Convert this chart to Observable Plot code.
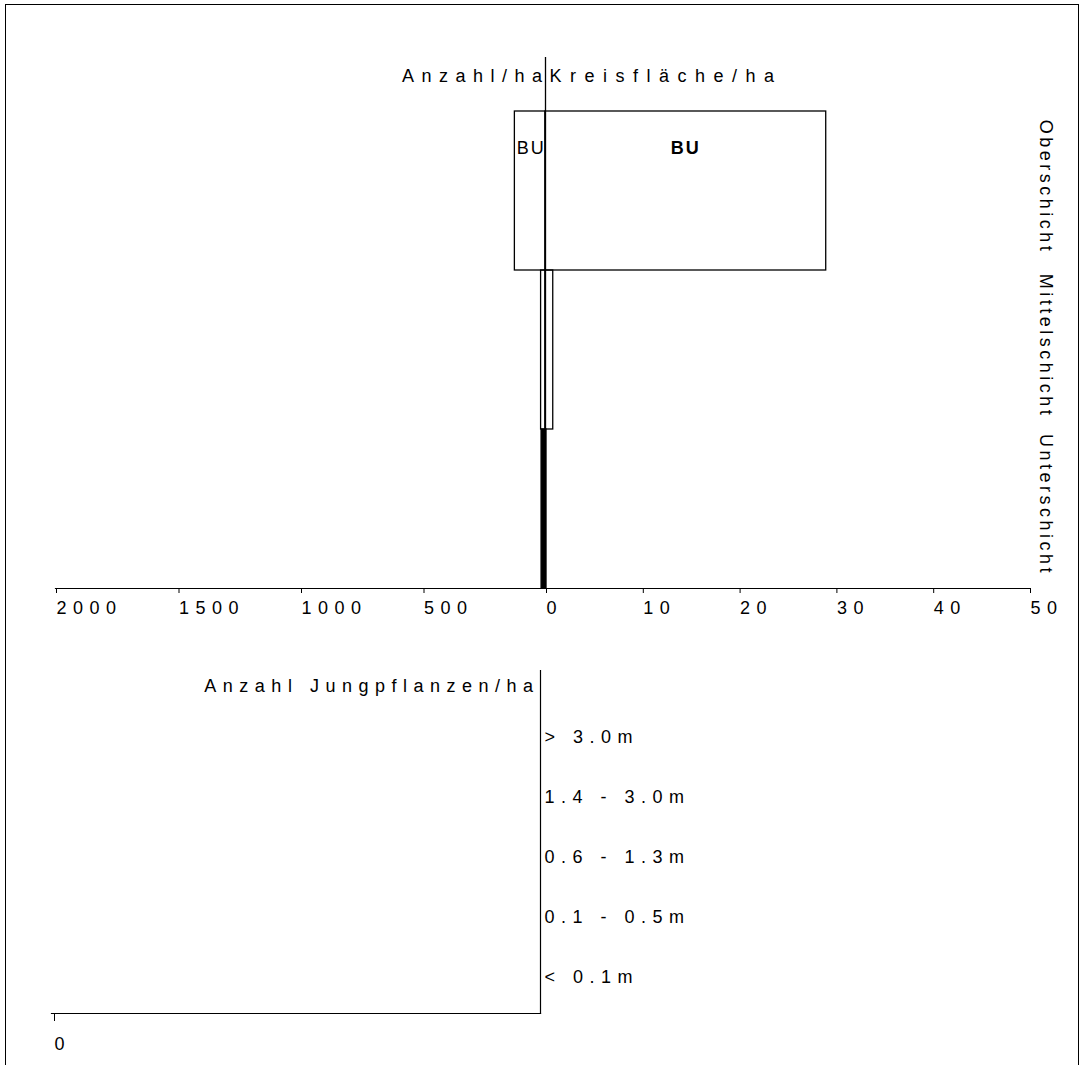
<!DOCTYPE html>
<html><head><meta charset="utf-8">
<script src="https://cdn.jsdelivr.net/npm/d3@7"></script>
<script src="https://cdn.jsdelivr.net/npm/@observablehq/plot@0.6"></script>
<style>
html,body{margin:0;padding:0;background:#fff;}
#chart{position:relative;width:1084px;height:1065px;overflow:hidden;background:#fff;}
#chart svg{position:absolute;left:0;top:0;}
#border{position:absolute;left:5px;top:4px;width:1074px;height:1100px;border:1px solid #000;box-sizing:border-box;}
</style></head><body>
<div id="chart"><div id="border"></div></div>
<script>
// ---- data ----
const layers = ["Oberschicht", "Mittelschicht", "Unterschicht"];
const species = ["BU", "BU", "BU"];
const anzahl = [125, 18, 16];            // Anzahl/ha
const kreisflaeche = [29, 0.8, 0.1];     // Kreisfläche/ha (m²)
const labelled = [true, false, false];
const anzahlTicks = [0, 500, 1000, 1500, 2000];
const kfTicks = [0, 10, 20, 30, 40, 50];
const heightClasses = ["> 3.0m", "1.4 - 3.0m", "0.6 - 1.3m", "0.1 - 0.5m", "< 0.1m"];
const jungpflanzen = [0, 0, 0, 0, 0];
const jungTicks = [0];

const stand = layers.map((l, i) => ({layer: l, species: species[i], anzahl: anzahl[i], kf: kreisflaeche[i], labelled: labelled[i]}));
const young = heightClasses.map((c, i) => ({cls: c, count: jungpflanzen[i]}));

const W = 1084, H = 1065;
const FONT = "'Liberation Sans', Arial, Helvetica, sans-serif";
const baseStyle = {background: "transparent", fontFamily: FONT, fontSize: "18px", letterSpacing: "6.5px", color: "#000", overflow: "visible"};
const layerFill = d => d.layer === "Unterschicht" ? "black" : "none";

const yTop = {type: "band", domain: layers, range: [110, 588], padding: 0, axis: null};

const left = Plot.plot({
  width: W, height: 640, style: baseStyle,
  marginLeft: 55, marginRight: W - 545, marginTop: 57, marginBottom: 640 - 588,
  x: {domain: [0, 2000], reverse: true},
  y: yTop,
  marks: [
    Plot.barX(stand, {x: "anzahl", y: "layer", fill: layerFill, stroke: "black", strokeWidth: 1.3}),
    Plot.text(stand.filter(d => d.labelled), {x: d => d.anzahl / 2, y: "layer", text: "species", dy: -43, dx: 1, fontSize: 18}),
    Plot.axisX({ticks: anzahlTicks, tickSize: 5, tickPadding: 8, textAnchor: "start", dx: 1, label: null, tickFormat: d => String(d)}),
    Plot.frame({anchor: "bottom", stroke: "black", strokeWidth: 1.2}),
    Plot.ruleX([0], {stroke: "black", strokeWidth: 1.3}),
    Plot.text(["Anzahl/ha"], {x: () => 0, frameAnchor: "top", textAnchor: "end", dx: 4, dy: 12, fontSize: 18})
  ]
});

const right = Plot.plot({
  width: W, height: 640, style: baseStyle,
  marginLeft: 545, marginRight: W - 1029, marginTop: 57, marginBottom: 640 - 588,
  x: {domain: [0, 50]},
  y: yTop,
  marks: [
    Plot.barX(stand, {x: "kf", y: "layer", fill: layerFill, stroke: "black", strokeWidth: 1.3}),
    Plot.text(stand.filter(d => d.labelled), {x: d => d.kf / 2, y: "layer", text: "species", dy: -43, fontSize: 18, fontWeight: "bold"}),
    Plot.axisX({ticks: kfTicks, tickSize: 5, tickPadding: 8, textAnchor: "start", dx: 1, label: null, tickFormat: d => d === 0 ? "" : String(d)}),
    Plot.frame({anchor: "bottom", stroke: "black", strokeWidth: 1.2}),
    Plot.text(["Kreisfläche/ha"], {x: () => 0, frameAnchor: "top", textAnchor: "start", dx: 4, dy: 12, fontSize: 18}),
    Plot.text(layers, {y: d => d, frameAnchor: "right", dx: 16, dy: -4, rotate: 90, textAnchor: "middle", fontSize: 18})
  ]
});

const bottom = Plot.plot({
  width: W, height: H, style: baseStyle,
  marginLeft: 51, marginRight: W - 540, marginTop: 670, marginBottom: H - 1013,
  x: {domain: [0, 1]},
  y: {type: "band", domain: heightClasses, range: [707, 1007], padding: 0, axis: null},
  marks: [
    Plot.barX(young, {x: "count", y: "cls", fill: "black"}),
    Plot.axisX({ticks: jungTicks, tickSize: 8, tickPadding: 16, textAnchor: "start", dx: 3, label: null, tickFormat: d => String(d)}),
    Plot.frame({anchor: "bottom", stroke: "black", strokeWidth: 1.2}),
    Plot.frame({anchor: "right", stroke: "black", strokeWidth: 1.2}),
    Plot.text(heightClasses, {y: d => d, frameAnchor: "right", textAnchor: "start", dx: 4, fontSize: 18}),
    Plot.text(["Anzahl Jungpflanzen/ha"], {frameAnchor: "top-right", textAnchor: "end", dx: -1, dy: 9, fontSize: 18})
  ]
});

const chart = document.getElementById("chart");
chart.append(left, right, bottom);

// letter spacing tweaks per text (styling only)
const spacing = {"Anzahl/ha": "7.5px", "Kreisfläche/ha": "8.5px", "BU": "2px",
  "Oberschicht": "3.5px", "Mittelschicht": "3.5px", "Unterschicht": "3.5px"};
d3.selectAll("#chart svg text").each(function () {
  const t = this.textContent;
  if (spacing[t]) d3.select(this).style("letter-spacing", spacing[t]);
});
</script>
</body></html>
